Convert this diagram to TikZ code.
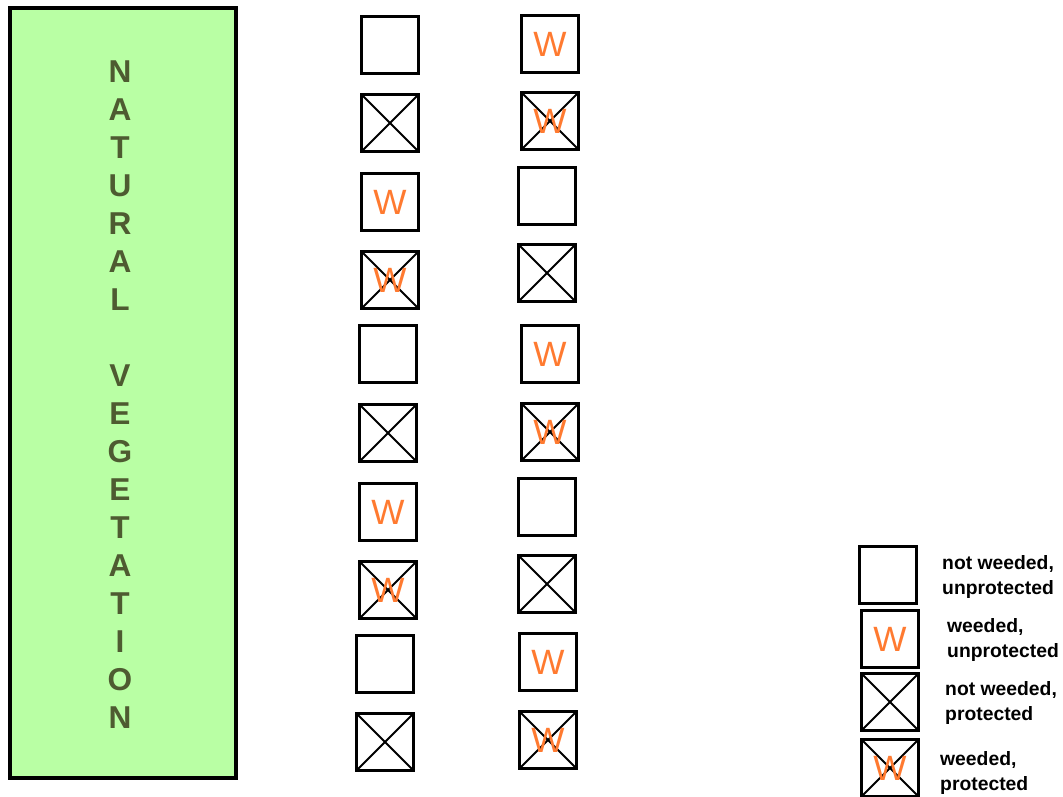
\documentclass[tikz,border=0pt]{standalone}
\usepackage{fontspec}
\setmainfont{Liberation Sans}
\definecolor{vegfill}{HTML}{B9FFA4}
\definecolor{vegtext}{HTML}{4E5B31}
\definecolor{weedcol}{HTML}{FF7A30}
\tikzset{
  plot/.style={draw, line width=1.2pt, minimum size=1.14cm, inner sep=0pt,
    text=weedcol, font=\fontsize{20}{20}\selectfont},
  fenced/.style={path picture={\draw[line width=1.2pt]
    (path picture bounding box.north west) -- (path picture bounding box.south east)
    (path picture bounding box.south west) -- (path picture bounding box.north east);}},
  key/.style={anchor=west, align=left, font=\fontsize{11}{13.7}\selectfont\bfseries}
}
\begin{document}
\begin{tikzpicture}[x=0.02cm,y=-0.02cm]
\useasboundingbox (0,0) rectangle (1063,797);
\draw[line width=2.3pt, fill=vegfill] (10,8) rectangle (236,778);
\foreach \c [count=\i] in {N,A,T,U,R,A,L}
  \node[text=vegtext, font=\fontsize{18}{18}\selectfont\bfseries] (nat\i) at (120,{72+38*(\i-1)}) {\c};
\foreach \c [count=\i] in {V,E,G,E,T,A,T,I,O,N}
  \node[text=vegtext, font=\fontsize{18}{18}\selectfont\bfseries] (veg\i) at (120,{376+38*(\i-1)}) {\c};
\node[plot] (a1) at (390,45) {};
\node[plot, fenced] (a2) at (390,123) {};
\node[plot] (a3) at (390,202) {W};
\node[plot, fenced] (a4) at (390,280) {W};
\node[plot] (a5) at (388,354) {};
\node[plot, fenced] (a6) at (388,433) {};
\node[plot] (a7) at (388,512) {W};
\node[plot, fenced] (a8) at (388,590) {W};
\node[plot] (a9) at (385,664) {};
\node[plot, fenced] (a10) at (385,742) {};
\node[plot] (b1) at (550,44) {W};
\node[plot, fenced] (b2) at (550,121) {W};
\node[plot] (b3) at (547,196) {};
\node[plot, fenced] (b4) at (547,273) {};
\node[plot] (b5) at (550,354) {W};
\node[plot, fenced] (b6) at (550,432) {W};
\node[plot] (b7) at (547,507) {};
\node[plot, fenced] (b8) at (547,584) {};
\node[plot] (b9) at (548,662) {W};
\node[plot, fenced] (b10) at (548,740) {W};
\node[plot] (k1) at (888,575) {};
\node[plot] (k2) at (890,639) {W};
\node[plot, fenced] (k3) at (890,702) {};
\node[plot, fenced] (k4) at (890,768) {W};
\node[key] (t1) at (936,577) {not weeded,\\unprotected};
\node[key] (t2) at (941,640) {weeded,\\unprotected};
\node[key] (t3) at (939,703) {not weeded,\\protected};
\node[key] (t4) at (934,773) {weeded,\\protected};
\end{tikzpicture}
\end{document}
